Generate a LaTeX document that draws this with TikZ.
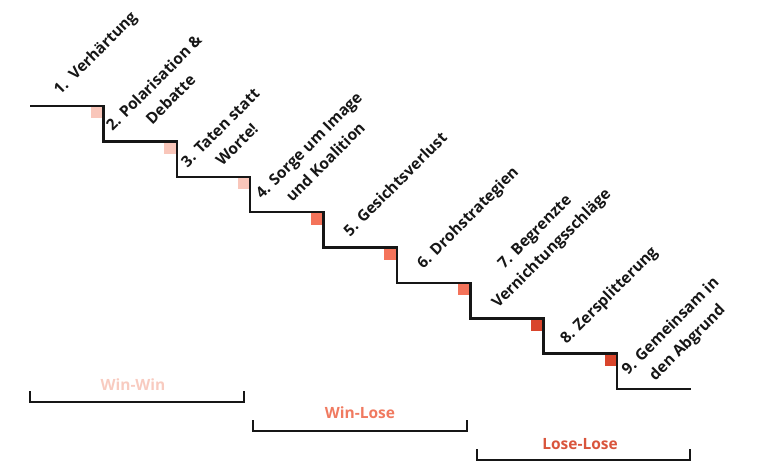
\documentclass[tikz,border=0pt]{standalone}
\usepackage{fontspec}
\setmainfont{Open Sans}
\definecolor{inkc}{HTML}{161616}
\definecolor{lightc}{HTML}{F9C6BA}
\definecolor{midc}{HTML}{F4735A}
\definecolor{darkc}{HTML}{D9452C}
\definecolor{wwc}{HTML}{F8CBC0}
\definecolor{wlc}{HTML}{F07A60}
\definecolor{llc}{HTML}{D9553C}
\begin{document}
\begin{tikzpicture}[x=1pt,y=-1pt,
  stair/.style={line width=2.5pt, draw=inkc, line join=miter},
  bracket/.style={line width=2.6pt, draw=inkc},
  lab/.style={font=\bfseries\fontsize{15.5}{23.5}\selectfont, rotate=45, align=center, inner sep=0pt, text=inkc, anchor=center},
  blab/.style={font=\bfseries\fontsize{15.5}{18}\selectfont, inner sep=0pt, anchor=base}]
\useasboundingbox (0,0) rectangle (768,468);
% staircase points
\coordinate (s0) at (30,106);
\foreach \k in {1,...,8}{
  \coordinate (c\k) at ({30+73.375*\k},{106+35.375*(\k-1)});
  \coordinate (d\k) at ({30+73.375*\k},{106+35.375*\k});
}
\coordinate (e) at (691,{106+35.375*8});
% squares
\foreach \k/\c in {1/lightc,2/lightc,3/lightc,4/midc,5/midc,6/midc,7/darkc,8/darkc}{
  \fill[\c] (c\k) ++(-12.5,0) rectangle ++(12.5,12.5);
}
% stairs
\draw[stair] (s0) -- (c1) -- (d1) -- (c2) -- (d2) -- (c3) -- (d3) -- (c4) -- (d4)
  -- (c5) -- (d5) -- (c6) -- (d6) -- (c7) -- (d7) -- (c8) -- (d8) -- (e);
% step labels
\node[lab] (l1) at (96,54) {1.\ \ Verhärtung};
\node[lab] (l2) at (162,91) {2. Polarisation \&\\Debatte};
\node[lab] (l3) at (228.5,136) {3. Taten statt\\Worte!};
\node[lab] (l4) at (317,153.5) {4. Sorge um Image\\und Koalition};
\node[lab] (l5) at (395,184) {5. Gesichtsverlust};
\node[lab] (l6) at (468.5,218.5) {6. Drohstrategien};
\node[lab] (l7) at (544,241) {7. Begrenzte\\Vernichtungsschläge};
\node[lab] (l8) at (609.5,296) {8. Zersplitterung};
\node[lab] (l9) at (679.5,335) {9. Gemeinsam in\\den Abgrund};
% brackets
\coordinate (b1a) at (30,391); \coordinate (b1b) at (30,402);
\coordinate (b1c) at (244,402); \coordinate (b1d) at (244,391);
\draw[bracket] (b1a) -- (b1b) -- (b1c) -- (b1d);
\coordinate (b2a) at (253,420); \coordinate (b2b) at (253,431);
\coordinate (b2c) at (467,431); \coordinate (b2d) at (467,420);
\draw[bracket] (b2a) -- (b2b) -- (b2c) -- (b2d);
\coordinate (b3a) at (477,449); \coordinate (b3b) at (477,460);
\coordinate (b3c) at (690,460); \coordinate (b3d) at (690,449);
\draw[bracket] (b3a) -- (b3b) -- (b3c) -- (b3d);
\node[blab, text=wwc] (t1) at (133,390) {Win-Win};
\node[blab, text=wlc] (t2) at (360,418) {Win-Lose};
\node[blab, text=llc] (t3) at (580,449) {Lose-Lose};
\end{tikzpicture}
\end{document}
